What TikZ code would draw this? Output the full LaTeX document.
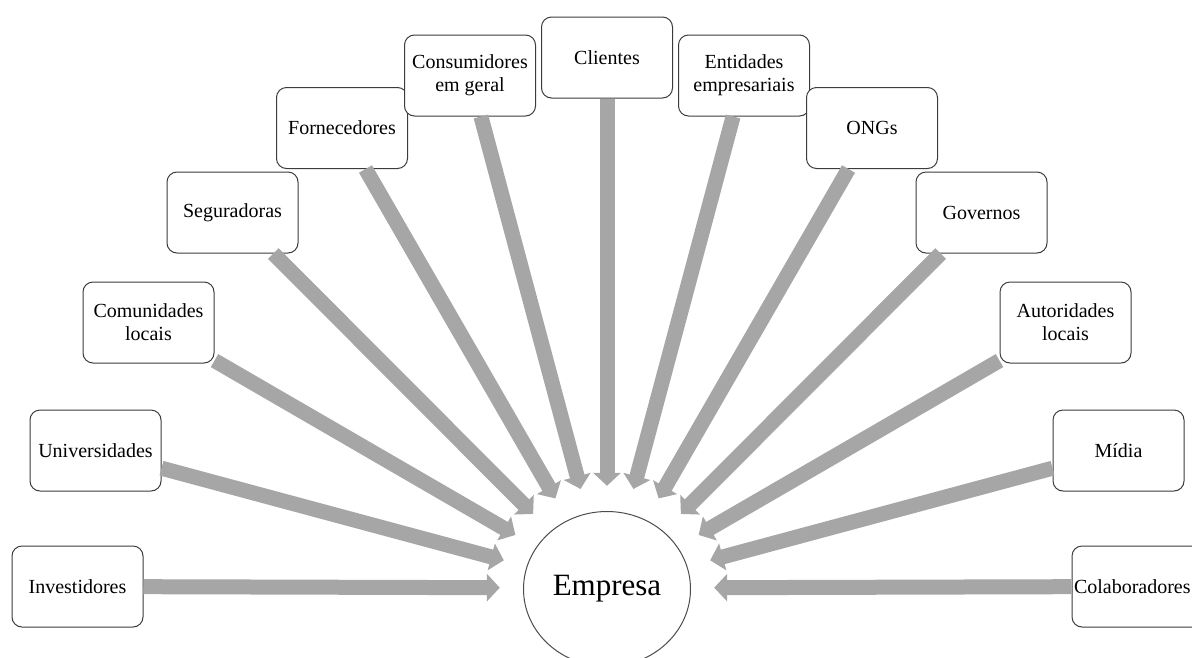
\documentclass[tikz,border=0pt]{standalone}
\usepackage{fontspec}
\setmainfont{Liberation Serif}
\usetikzlibrary{arrows.meta,shapes.geometric}
\definecolor{arrowgray}{RGB}{166,166,166}
\definecolor{boxline}{RGB}{60,60,60}
\begin{document}
\begin{tikzpicture}[x=1pt,y=-1pt,
  box/.style={draw=boxline, line width=1pt, rounded corners=10pt,
    minimum width=131pt, minimum height=81pt, align=center,
    font=\fontsize{20}{23}\selectfont, fill=white, inner sep=2pt},
  hub/.style={ellipse, draw=black!70, line width=1pt, minimum width=167pt,
    minimum height=155pt, font=\fontsize{31}{36}\selectfont, inner sep=0pt},
  halo/.style={ellipse, minimum width=214pt, minimum height=204pt, inner sep=0pt},
  link/.style={draw=arrowgray, line width=15pt, -{Triangle[width=27pt,length=13pt]}}
]
\useasboundingbox (0,0) rectangle (1192,657);
\clip (0,0) rectangle (1192,657);

\node[hub] (emp) at (607,589) {Empresa};
\node[halo] (halo) at (607,588) {};

\node[box] (inv) at (77.5,586.5) {Investidores};
\node[box] (uni) at (95.5,450.5) {Universidades};
\node[box] (com) at (148.5,322.5) {Comunidades\\locais};
\node[box] (seg) at (232.5,212.5) {Seguradoras};
\node[box] (for) at (342,128) {Fornecedores};
\node[box] (con) at (470,75.5) {Consumidores\\em geral};
\node[box] (cli) at (607,57.5) {Clientes};
\node[box] (ent) at (744,75.5) {Entidades\\empresariais};
\node[box] (ong) at (872,128) {ONGs};
\node[box] (gov) at (981.5,212.5) {Governos};
\node[box] (aut) at (1065.5,322.5) {Autoridades\\locais};
\node[box] (mid) at (1118.5,450.5) {Mídia};
\node[box, align=left, text width=127pt, inner xsep=0pt] (col) at (1137.5,586.5) {Colaboradores};

\foreach \n in {inv,uni,com,seg,for,con,cli,ent,ong,gov,aut,mid,col}
  \draw[link] (\n) -- (halo);
\end{tikzpicture}
\end{document}
